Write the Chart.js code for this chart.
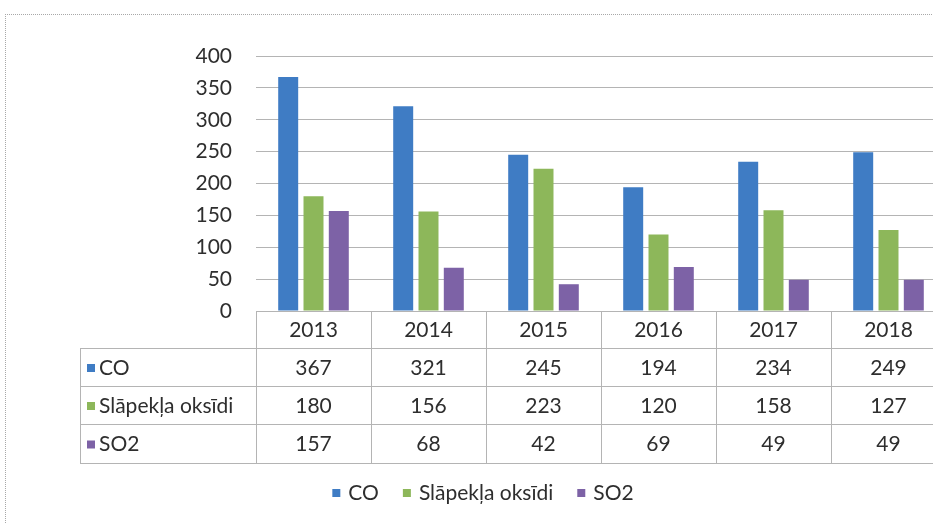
<!DOCTYPE html>
<html>
<head>
<meta charset="utf-8">
<script src="https://cdn.jsdelivr.net/npm/chart.js@4.4.1/dist/chart.umd.min.js"></script>
<style>
  html, body { margin: 0; padding: 0; background: #fff; overflow: hidden; }
  body { width: 933px; height: 524px; position: relative; }
  #frame { position: absolute; left: 5px; top: 14px; width: 940px; height: 520px;
           border-top: 1px dotted #a8a8a8; border-left: 1px dotted #a8a8a8; }
  #chart { position: absolute; left: 0; top: 0; }
</style>
</head>
<body>
<div id="frame"></div>
<canvas id="chart" width="946" height="524"></canvas>
<script>
// data
const years = ['2013', '2014', '2015', '2016', '2017', '2018'];
const coValues = [367, 321, 245, 194, 234, 249];
const noxValues = [180, 156, 223, 120, 158, 127];
const so2Values = [157, 68, 42, 69, 49, 49];
const seriesNames = ['CO', 'Slāpekļa oksīdi', 'SO2'];
const seriesColors = ['#3f7cc4', '#8db75a', '#7d62a6'];

const FONT = 'Lato, "Open Sans", sans-serif';
const FONT_SIZE = 21;
const TEXT = '#2e2e2e';
const LINE = '#b4b4b4';

// draws the data table under the plot and the legend at the bottom
const dataTablePlugin = {
    id: 'dataTable',
    afterDraw(chart) {
        const ctx = chart.ctx;
        const x = chart.scales.x;
        const area = chart.chartArea;
        const colW = x.width / years.length;
        const tableLeft = 80;
        const rowTops = [area.bottom, 348, 386, 424, 463];

        ctx.save();
        ctx.strokeStyle = LINE;
        ctx.lineWidth = 1;

        // horizontal lines
        ctx.beginPath();
        ctx.moveTo(area.left, rowTops[0] + 0.5);
        ctx.lineTo(area.right, rowTops[0] + 0.5);
        for (let r = 1; r < rowTops.length; r++) {
            ctx.moveTo(tableLeft, rowTops[r] + 0.5);
            ctx.lineTo(area.right, rowTops[r] + 0.5);
        }
        // vertical lines
        ctx.moveTo(tableLeft + 0.5, rowTops[1]);
        ctx.lineTo(tableLeft + 0.5, rowTops[4]);
        for (let i = 0; i <= years.length; i++) {
            const px = Math.round(area.left + i * colW) + 0.5;
            ctx.moveTo(px, rowTops[0]);
            ctx.lineTo(px, rowTops[4]);
        }
        ctx.stroke();

        ctx.font = FONT_SIZE + 'px ' + FONT;
        ctx.fillStyle = TEXT;
        ctx.textBaseline = 'middle';

        // header
        ctx.textAlign = 'center';
        years.forEach((y, i) => {
            ctx.fillText(y, x.getPixelForValue(i), (rowTops[0] + rowTops[1]) / 2 + 1);
        });

        // rows
        chart.data.datasets.forEach((ds, r) => {
            const cy = (rowTops[r + 1] + rowTops[r + 2]) / 2 + 1;
            ctx.fillStyle = ds.backgroundColor;
            ctx.fillRect(87, cy - 4, 8, 8);
            ctx.fillStyle = TEXT;
            ctx.textAlign = 'left';
            ctx.fillText(ds.label, 99, cy);
            ctx.textAlign = 'center';
            ds.data.forEach((v, i) => {
                ctx.fillText(String(v), x.getPixelForValue(i), cy);
            });
        });

        // legend
        const legendY = 493;
        const gap = 24;
        const widths = chart.data.datasets.map(ds => 16 + ctx.measureText(ds.label).width);
        const total = widths.reduce((a, b) => a + b, 0) + gap * (widths.length - 1);
        let lx = 483 - total / 2;
        chart.data.datasets.forEach((ds, r) => {
            ctx.fillStyle = ds.backgroundColor;
            ctx.fillRect(lx, legendY - 4, 8, 8);
            ctx.fillStyle = TEXT;
            ctx.textAlign = 'left';
            ctx.fillText(ds.label, lx + 16, legendY);
            lx += widths[r] + gap;
        });
        ctx.restore();
    }
};

const datasets = [coValues, noxValues, so2Values].map((vals, i) => ({
    label: seriesNames[i],
    data: vals,
    backgroundColor: seriesColors[i],
    categoryPercentage: 0.66,
    barPercentage: 0.79
}));

new Chart(document.getElementById('chart'), {
    type: 'bar',
    data: { labels: years, datasets: datasets },
    options: {
        responsive: false,
        animation: false,
        layout: { padding: { top: 56, bottom: 213, left: 0, right: 0 } },
        scales: {
            x: { display: false },
            y: {
                min: 0,
                max: 400,
                afterFit: s => { s.width = 256; },
                border: { display: false },
                grid: { color: LINE, drawTicks: false },
                ticks: {
                    stepSize: 50,
                    padding: 24,
                    color: TEXT,
                    font: { family: FONT, size: FONT_SIZE }
                }
            }
        },
        plugins: {
            legend: { display: false },
            tooltip: { enabled: false }
        }
    },
    plugins: [dataTablePlugin]
});
</script>
</body>
</html>
